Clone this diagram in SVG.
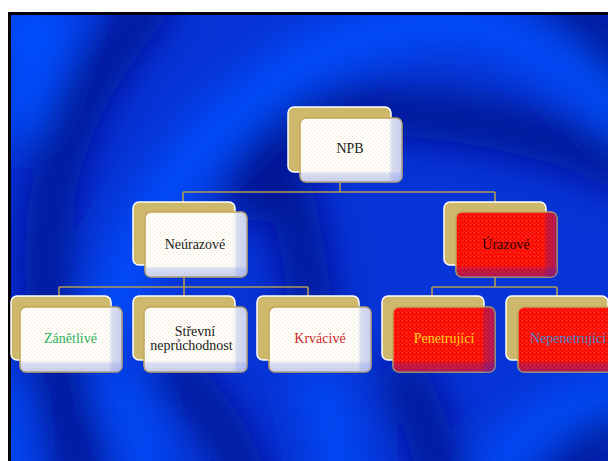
<svg xmlns="http://www.w3.org/2000/svg" width="608" height="461" viewBox="0 0 608 461">
<style>
.back{fill:#cdb86b;stroke:#ffffff;stroke-width:1.5}
.fw{fill:url(#dotsW);stroke:#c4a65a;stroke-width:1.5}
.fr{fill:url(#dotsR);stroke:#c4a65a;stroke-width:1.5}
.erw{fill:url(#edgeRW)}
.ebw{fill:url(#edgeBW)}
.err{fill:url(#edgeRR)}
.ebr{fill:url(#edgeBR)}
.lbl{font-family:"Liberation Serif","Times New Roman",serif;font-size:14px;text-anchor:middle;fill:#1c1c1c}
.con{fill:none;stroke:#b09a55;stroke-width:1.6}
.dk{fill:none;stroke:#000a88;stroke-linecap:round;stroke-opacity:0.9}
.br{fill:none;stroke:#0050ff;stroke-linecap:round}
</style>
<defs>
<pattern id="dotsW" width="4" height="4" patternUnits="userSpaceOnUse">
<rect width="4" height="4" fill="#fffefa"/>
<rect x="0" y="0" width="1" height="1" fill="#ebe3c8"/>
<rect x="2" y="2" width="1" height="1" fill="#ebe3c8"/>
</pattern>
<pattern id="dotsR" width="4" height="4" patternUnits="userSpaceOnUse">
<rect width="4" height="4" fill="#ff1409"/>
<rect x="0" y="0" width="1" height="1" fill="#dc0000"/>
<rect x="2" y="2" width="1" height="1" fill="#dc0000"/>
<rect x="2" y="0" width="1" height="1" fill="#ff4430"/>
</pattern>
<linearGradient id="edgeRW" x1="0" y1="0" x2="1" y2="0">
<stop offset="0.87" stop-color="#8898e8" stop-opacity="0"/>
<stop offset="0.9" stop-color="#8898e8" stop-opacity="0.3"/>
<stop offset="1" stop-color="#8898e8" stop-opacity="0.45"/>
</linearGradient>
<linearGradient id="edgeBW" x1="0" y1="0" x2="0" y2="1">
<stop offset="0.83" stop-color="#8898e8" stop-opacity="0"/>
<stop offset="0.87" stop-color="#8898e8" stop-opacity="0.3"/>
<stop offset="1" stop-color="#8898e8" stop-opacity="0.45"/>
</linearGradient>
<linearGradient id="edgeRR" x1="0" y1="0" x2="1" y2="0">
<stop offset="0.87" stop-color="#4020c0" stop-opacity="0"/>
<stop offset="0.9" stop-color="#4020c0" stop-opacity="0.25"/>
<stop offset="1" stop-color="#4020c0" stop-opacity="0.4"/>
</linearGradient>
<linearGradient id="edgeBR" x1="0" y1="0" x2="0" y2="1">
<stop offset="0.83" stop-color="#4020c0" stop-opacity="0"/>
<stop offset="0.87" stop-color="#4020c0" stop-opacity="0.25"/>
<stop offset="1" stop-color="#4020c0" stop-opacity="0.4"/>
</linearGradient>
<clipPath id="slide"><rect x="11" y="15" width="597" height="446"/></clipPath>
<filter id="blur" x="-30%" y="-30%" width="160%" height="160%"><feGaussianBlur stdDeviation="20"/></filter>
</defs>

<rect width="608" height="461" fill="#ffffff"/>
<g id="background">
<rect x="8" y="12" width="600" height="449" fill="#000000"/>
<rect x="11" y="15" width="597" height="446" fill="#0634d6"/>
<g clip-path="url(#slide)">
<g filter="url(#blur)">
<path class="br" stroke-width="50" d="M 10 25 L 50 25 L 20 110"/>
<path class="dk" stroke-width="44" d="M 150 5 C 92 70 50 150 46 250 C 45 330 64 410 84 480"/>
<path class="dk" stroke-width="44" d="M 560 0 C 590 15 610 40 630 75"/>
<path class="dk" stroke-width="46" d="M 245 200 C 270 125 330 105 420 115 C 500 122 560 140 630 168"/>
<path class="dk" stroke-width="44" d="M 290 190 C 300 230 305 260 310 300"/>
<path class="dk" stroke-width="42" d="M 175 372 C 205 400 228 430 248 480"/>
<path class="dk" stroke-width="44" d="M 405 378 C 420 405 432 440 440 480"/>
<path class="dk" stroke-width="44" d="M 560 480 C 590 450 610 430 630 420"/>
<path class="br" stroke-width="34" d="M 0 395 L 10 480"/>
<path class="br" stroke-width="44" d="M 470 18 C 390 25 320 45 280 80 C 220 120 175 170 140 240 C 120 290 110 320 105 330"/>
<path class="br" stroke-width="40" d="M 420 20 C 500 20 570 60 630 125"/>
<path class="br" stroke-width="36" d="M 118 385 C 135 410 145 440 150 480"/>
<path class="br" stroke-width="36" d="M 318 385 C 330 410 338 440 342 480"/>
<path class="br" stroke-width="36" d="M 495 470 C 525 425 570 400 630 392"/>
</g>
</g>
</g>

<g id="connectors">
<path class="con" d="M 340 183 V 192 M 183 192 H 495 M 183 192 V 202 M 495 192 V 202"/>
<path class="con" d="M 184 277 V 296 M 59 287 H 308 M 59 287 V 296 M 308 287 V 296"/>
<path class="con" d="M 495 277 V 287 M 432 287 H 557 M 432 287 V 296 M 557 287 V 296"/>
</g>

<g id="node-npb">
<rect class="back" x="288" y="107" width="103" height="65" rx="6"/>
<rect class="fw" x="300" y="118" width="102" height="64" rx="6"/>
<rect class="erw" x="300" y="118" width="102" height="64" rx="6"/>
<rect class="ebw" x="300" y="118" width="102" height="64" rx="6"/>
<text class="lbl" x="350" y="153">NPB</text>
</g>

<g id="node-neurazove">
<rect class="back" x="133" y="202" width="102" height="63" rx="6"/>
<rect class="fw" x="145" y="212" width="102" height="65" rx="6"/>
<rect class="erw" x="145" y="212" width="102" height="65" rx="6"/>
<rect class="ebw" x="145" y="212" width="102" height="65" rx="6"/>
<text class="lbl" x="195" y="248.5">Neúrazové</text>
</g>

<g id="node-urazove">
<rect class="back" x="444" y="202" width="102" height="63" rx="6"/>
<rect class="fr" x="456" y="212" width="101" height="65" rx="6"/>
<rect class="err" x="456" y="212" width="101" height="65" rx="6"/>
<rect class="ebr" x="456" y="212" width="101" height="65" rx="6"/>
<text class="lbl" x="506" y="249" style="fill:#2a0000">Úrazové</text>
</g>

<g id="node-zanetlive">
<rect class="back" x="11" y="296" width="100" height="64" rx="6"/>
<rect class="fw" x="20" y="307" width="102" height="65" rx="6"/>
<rect class="erw" x="20" y="307" width="102" height="65" rx="6"/>
<rect class="ebw" x="20" y="307" width="102" height="65" rx="6"/>
<text class="lbl" x="70.5" y="342.5" style="fill:#2cb25c">Zánětlivé</text>
</g>

<g id="node-strevni">
<rect class="back" x="133" y="296" width="102" height="64" rx="6"/>
<rect class="fw" x="144" y="307" width="103" height="65" rx="6"/>
<rect class="erw" x="144" y="307" width="103" height="65" rx="6"/>
<rect class="ebw" x="144" y="307" width="103" height="65" rx="6"/>
<text class="lbl" x="195" y="336">Střevní</text>
<text class="lbl" x="191.5" y="349.5">neprůchodnost</text>
</g>

<g id="node-krvacive">
<rect class="back" x="257" y="296" width="102" height="64" rx="6"/>
<rect class="fw" x="269" y="307" width="102" height="65" rx="6"/>
<rect class="erw" x="269" y="307" width="102" height="65" rx="6"/>
<rect class="ebw" x="269" y="307" width="102" height="65" rx="6"/>
<text class="lbl" x="320" y="342.5" style="fill:#d0282c">Krvácivé</text>
</g>

<g id="node-penetrujici">
<rect class="back" x="382" y="296" width="102" height="64" rx="6"/>
<rect class="fr" x="393" y="307" width="102" height="65" rx="6"/>
<rect class="err" x="393" y="307" width="102" height="65" rx="6"/>
<rect class="ebr" x="393" y="307" width="102" height="65" rx="6"/>
<text class="lbl" x="444" y="342.5" style="fill:#ffd21a">Penetrující</text>
</g>

<g id="node-nepenetrujici">
<rect class="back" x="506" y="296" width="102" height="64" rx="6"/>
<rect class="fr" x="518" y="307" width="102" height="65" rx="6"/>
<rect class="err" x="518" y="307" width="102" height="65" rx="6"/>
<rect class="ebr" x="518" y="307" width="102" height="65" rx="6"/>
<text class="lbl" x="568" y="342.5" style="fill:#4a86c8">Nepenetrující</text>
</g>
</svg>
